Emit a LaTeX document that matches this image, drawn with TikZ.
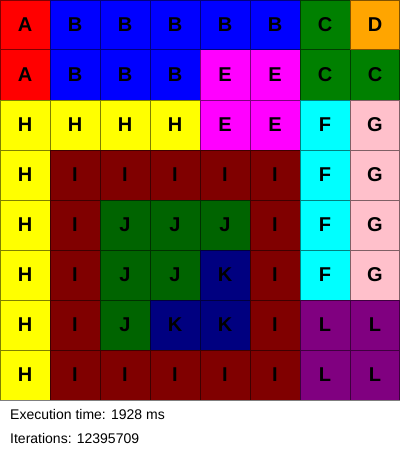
\documentclass[tikz,border=0pt]{standalone}
\usepackage{fontspec}
\setmainfont{Liberation Sans}
\definecolor{cA}{RGB}{255,0,0}
\definecolor{cB}{RGB}{0,0,255}
\definecolor{cC}{RGB}{0,128,0}
\definecolor{cD}{RGB}{255,165,0}
\definecolor{cE}{RGB}{255,0,255}
\definecolor{cF}{RGB}{0,255,255}
\definecolor{cG}{RGB}{255,192,203}
\definecolor{cH}{RGB}{255,255,0}
\definecolor{cI}{RGB}{128,0,0}
\definecolor{cJ}{RGB}{0,100,0}
\definecolor{cK}{RGB}{0,0,128}
\definecolor{cL}{RGB}{128,0,128}
\begin{document}
\begin{tikzpicture}[x=1pt,y=-1pt,
  cell/.style={minimum size=50pt, inner sep=0pt, font=\bfseries\fontsize{20}{20}\selectfont},
  gridline/.style={draw=black, draw opacity=0.5, line width=1pt},
  info/.style={anchor=base west, inner sep=0pt, font=\fontsize{14}{14}\selectfont}]
\useasboundingbox[fill=white] (0,0) rectangle (400,460);
\foreach \row [count=\r from 0] in {{A,B,B,B,B,B,C,D},{A,B,B,B,E,E,C,C},{H,H,H,H,E,E,F,G},{H,I,I,I,I,I,F,G},{H,I,J,J,J,I,F,G},{H,I,J,J,K,I,F,G},{H,I,J,K,K,I,L,L},{H,I,I,I,I,I,L,L}}{
  \foreach \c [count=\k from 0] in \row {
    \node[cell, fill=c\c] (n\r\k) at (\k*50+25, \r*50+25) {\c};
  }
}
\draw[gridline] (0,0) grid[step=50pt] (400,400);
\node[info] (t1) at (10,419) {Execution time: 1928 ms};
\node[info] (t2) at (10,443) {Iterations: 12395709};
\end{tikzpicture}
\end{document}
